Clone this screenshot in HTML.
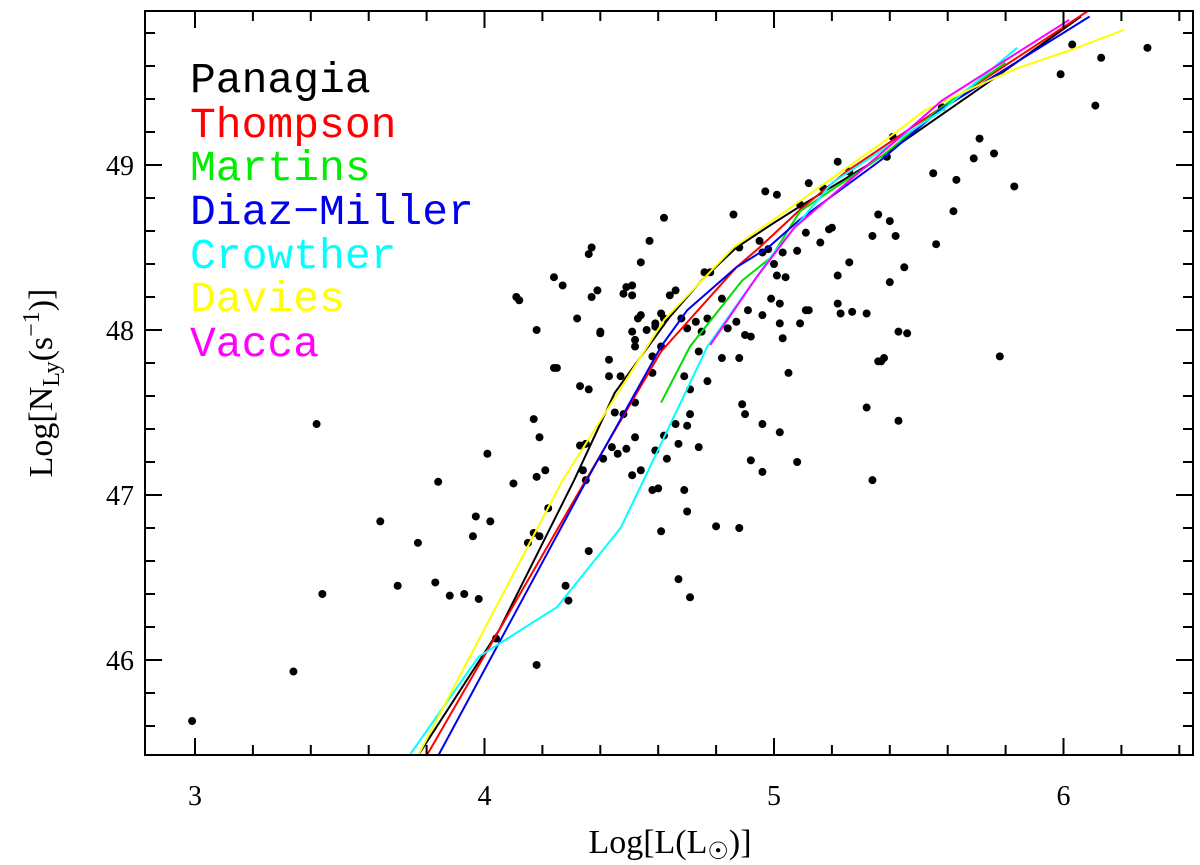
<!DOCTYPE html>
<html><head><meta charset="utf-8"><style>
body{margin:0;background:#fff}
svg{display:block}
text{font-family:"Liberation Serif",serif}
</style></head><body>
<svg id="chart" width="1200" height="865" viewBox="0 0 1200 865" xmlns="http://www.w3.org/2000/svg">
<defs><clipPath id="clip"><rect x="145" y="11" width="1048" height="744"/></clipPath></defs>
<g id="marks" clip-path="url(#clip)"></g>
<g id="axes"></g>
<g font-size="43" style="font-family:'Liberation Mono',monospace">
<text x="190" y="92" fill="#000" style="font-family:'Liberation Mono',monospace">Panagia</text>
<text x="190" y="137" fill="#ff0000" style="font-family:'Liberation Mono',monospace">Thompson</text>
<text x="190" y="180" fill="#00ee00" style="font-family:'Liberation Mono',monospace">Martins</text>
<text x="190" y="224" fill="#0000ee" style="font-family:'Liberation Mono',monospace">Diaz−Miller</text>
<text x="190" y="268" fill="#00ffff" style="font-family:'Liberation Mono',monospace">Crowther</text>
<text x="190" y="311" fill="#ffff00" style="font-family:'Liberation Mono',monospace">Davies</text>
<text x="190" y="356" fill="#ff00ff" style="font-family:'Liberation Mono',monospace">Vacca</text>
</g>
<text x="670" y="853" font-size="34" text-anchor="middle">Log[L(L<tspan font-size="24" dy="6">☉</tspan><tspan dy="-6">)]</tspan></text>
<text transform="translate(52,383) rotate(-90)" font-size="34" text-anchor="middle">Log[N<tspan font-size="24" dy="7">Ly</tspan><tspan dy="-7">(s</tspan><tspan font-size="24" dy="-13">−1</tspan><tspan dy="13">)]</tspan></text>
</svg>
<script>
const xTicks=[3,4,5,6];
const yTicks=[46,47,48,49];
const ptX=[2.99,3.34,3.42,3.44,3.64,3.70,3.77,3.83,3.88,3.93,3.98,3.97,4.02,3.96,3.84,4.22,4.17,4.19,4.15,4.36,4.28,4.29,4.04,4.18,4.70,4.61,4.80,4.88,4.67,4.71,
4.01,4.10,4.11,4.12,4.18,4.17,4.19,4.18,4.21,4.24,4.27,4.24,4.25,4.32,4.33,4.36,4.36,4.37,4.37,4.39,4.40,4.40,4.43,4.43,4.47,4.33,4.35,4.34,4.35,4.41,4.44,4.46,4.49,4.45,4.48,4.52,4.51,4.54,4.52,4.48,4.49,4.51,4.51,4.51,4.52,4.52,4.53,4.54,4.54,4.57,4.62,4.56,4.59,4.59,4.61,4.62,4.64,4.66,4.61,4.58,4.58,4.59,4.62,4.63,4.67,4.58,4.60,4.69,4.66,4.70,4.71,4.69,4.71,4.74,4.77,4.74,4.75,4.73,4.77,4.70,4.68,4.76,4.78,4.82,4.84,4.87,4.86,4.88,4.82,4.88,4.91,4.90,4.92,4.89,4.90,4.96,4.92,4.96,4.96,4.95,4.96,4.98,4.97,5.01,5.00,4.99,5.02,5.01,5.04,5.03,5.02,5.03,5.05,5.02,5.08,5.08,5.09,5.11,5.12,5.11,5.16,5.19,5.20,5.12,5.17,5.09,5.22,5.26,5.22,5.26,5.22,5.23,5.27,5.32,5.34,5.32,5.34,5.36,5.36,
6.03,5.99,6.13,6.11,6.29,5.58,5.41,5.39,5.71,5.69,5.76,5.55,5.63,5.83,5.62,5.40,5.42,5.56,5.45,5.40,5.43,5.46,5.37,5.38,5.78,5.43];
const ptY=[45.63,45.93,47.43,46.40,46.84,46.45,46.71,46.47,46.39,46.40,46.37,46.87,46.84,46.75,47.08,46.92,46.77,46.75,46.71,46.66,46.45,46.36,46.13,45.97,46.90,46.78,46.81,46.80,46.49,46.38,
47.25,47.07,48.20,48.18,48.00,47.46,47.35,47.11,47.15,48.32,48.27,47.77,47.77,48.07,47.66,47.64,48.46,48.50,48.20,48.24,47.98,47.99,47.82,47.72,47.72,47.30,47.31,47.15,47.09,47.22,47.29,47.25,47.28,47.50,47.49,47.35,47.12,47.15,47.56,48.22,48.26,48.27,48.21,47.99,47.94,47.90,48.07,48.09,48.41,48.54,48.68,48.00,48.02,48.04,48.10,48.07,48.21,48.24,47.90,47.84,47.74,47.27,47.36,47.22,47.31,47.03,47.04,47.03,47.43,47.42,47.49,47.72,47.64,47.29,47.69,47.87,47.99,48.05,48.07,48.01,48.07,48.35,48.35,48.19,48.01,48.05,48.70,48.50,47.83,47.83,48.12,47.97,47.96,47.55,47.49,47.43,47.21,47.14,48.09,48.54,48.47,48.49,48.84,48.82,48.40,48.19,48.16,48.33,48.32,48.47,48.04,47.95,47.74,47.38,47.20,48.48,48.04,48.12,48.12,48.59,48.53,48.61,48.62,48.89,48.86,48.76,49.02,48.96,48.33,48.41,48.16,48.10,48.11,48.10,48.57,47.53,47.09,48.70,47.81,
49.73,49.55,49.65,49.36,49.71,49.35,49.17,49.05,49.16,49.04,49.07,48.95,48.91,48.87,48.72,48.66,48.57,48.52,48.38,48.29,47.99,47.98,47.81,47.83,47.84,47.45];
const panagiaX=[3.77,4.05,4.31,4.45,4.64,4.75,4.87,5.00,5.09,5.37,5.78,6.06];
const panagiaY=[45.42,46.18,47.09,47.62,48.08,48.30,48.50,48.65,48.75,49.05,49.55,49.90];
const thompsonX=[3.80,4.35,4.61,4.87,4.95,5.09,5.25,5.58,6.09];
const thompsonY=[45.42,47.09,47.87,48.38,48.50,48.73,48.96,49.35,49.94];
const martinsX=[4.61,4.71,4.89,4.99,5.09,5.37,5.58,5.80];
const martinsY=[47.56,47.90,48.30,48.44,48.72,49.05,49.35,49.62];
const diazX=[3.84,4.35,4.61,4.70,4.87,4.98,5.09,5.37,5.57,6.09];
const diazY=[45.42,47.08,47.90,48.12,48.38,48.50,48.67,49.03,49.33,49.90];
const crowtherX=[3.74,3.98,4.25,4.47,4.55,4.77,5.00,5.20,5.58,5.84];
const crowtherY=[45.42,46.02,46.32,46.80,47.09,47.90,48.47,48.89,49.33,49.71];
const daviesX=[3.77,4.27,4.62,4.86,5.00,5.37,5.52,5.69,5.83,6.03,6.21];
const daviesY=[45.42,47.09,48.06,48.50,48.67,49.13,49.33,49.47,49.58,49.70,49.82];
const vaccaX=[4.78,4.94,5.07,5.37,5.58,6.02];
const vaccaY=[47.91,48.32,48.62,49.07,49.39,49.88];

const NS='http://www.w3.org/2000/svg';
const L=145,R=1193,T=11,B=755;
function sx(v){return 195+(v-3)*289.5;}
function sy(v){return 660-(v-46)*165;}
function mk(tag,attrs,parent){const e=document.createElementNS(NS,tag);for(const k in attrs)e.setAttribute(k,attrs[k]);parent.appendChild(e);return e;}
const marks=document.getElementById('marks'),axes=document.getElementById('axes');
const series=[['panagia',panagiaX,panagiaY,'#000'],['thompson',thompsonX,thompsonY,'#ff0000'],['martins',martinsX,martinsY,'#00dd00'],['diaz-miller',diazX,diazY,'#0000ee'],['crowther',crowtherX,crowtherY,'#00ffff'],['davies',daviesX,daviesY,'#ffff00'],['vacca',vaccaX,vaccaY,'#ff00ff']];
for(let i=0;i<ptX.length;i++){
 const c=mk('circle',{cx:sx(ptX[i]),cy:sy(ptY[i]),r:4,fill:'#000'},marks);
 
 
}
series.forEach(s=>{
 const d=s[1].map((x,i)=>(i?'L':'M')+sx(x).toFixed(1)+','+sy(s[2][i]).toFixed(1)).join(' ');
 const p=mk('path',{d:d,fill:'none',stroke:s[3],'stroke-width':2,'stroke-linejoin':'round'},marks);
 
 
});
const fr=mk('rect',{x:L,y:T,width:R-L,height:B-T,fill:'none',stroke:'#000','stroke-width':2},axes);


let tp='';
for(let v=2.8;v<=6.45;v+=0.2){const x=sx(v);if(x<L||x>R)continue;const major=Math.abs(v-Math.round(v))<0.01;const len=major?17:10;tp+=`M${x},${B}v${-len}M${x},${T}v${len}`;}
for(let v=45.4;v<=50;v+=0.2){const y=sy(v);if(y<T||y>B)continue;const major=Math.abs(v-Math.round(v))<0.01;const len=major?17:10;tp+=`M${L},${y}h${len}M${R},${y}h${-len}`;}
const tk=mk('path',{d:tp,stroke:'#000','stroke-width':2,fill:'none'},axes);


xTicks.forEach(v=>{const t=mk('text',{x:sx(v),y:805,'font-size':28,'text-anchor':'middle'},axes);t.textContent=v;
 
 });
yTicks.forEach(v=>{const t=mk('text',{x:134,y:sy(v)+10,'font-size':28,'text-anchor':'end'},axes);t.textContent=v;
 
 });
</script>
</body></html>
